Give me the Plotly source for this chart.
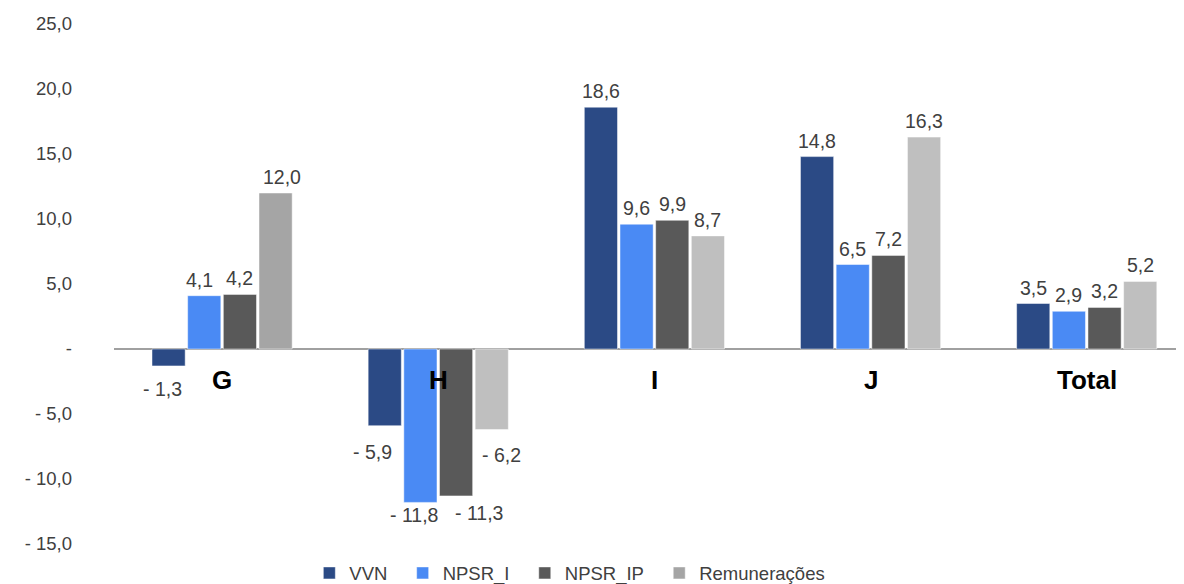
import plotly.graph_objects as go

categories = ["G", "H", "I", "J", "Total"]
series_names = ["VVN", "NPSR_I", "NPSR_IP", "Remunerações"]
vvn = [-1.3, -5.9, 18.6, 14.8, 3.5]
npsr_i = [4.1, -11.8, 9.6, 6.5, 2.9]
npsr_ip = [4.2, -11.3, 9.9, 7.2, 3.2]
remun = [12.0, -6.2, 8.7, 16.3, 5.2]
series_values = [vvn, npsr_i, npsr_ip, remun]
y_tickvals = [-15, -10, -5, 0, 5, 10, 15, 20, 25]
y_ticktext = ["- 15,0", "- 10,0", "- 5,0", "-", "5,0", "10,0", "15,0", "20,0", "25,0"]

# styles
colors = ["#2B4A85", "#4A8AF4", "#595959", "#BFBFBF"]
remun_g_color = "#A5A5A5"
FONT = "Liberation Sans, Arial, sans-serif"
PAD = "\u00a0\u00a0"
BARGAP = 0.34
# label nudges in pixels: (series index, category) -> (dx, dy)
label_nudge = {
    (0, "G"): (-6, -10), (1, "G"): (-5, 0), (3, "G"): (6, 0),
    (0, "H"): (-12, -13), (1, "H"): (-6, 0), (2, "H"): (23, -4), (3, "H"): (10, -12),
}


def fmt(v):
    s = f"{abs(v):.1f}".replace(".", ",")
    return ("- " + s) if v < 0 else s


fig = go.Figure()
nser = len(series_names)
for j, (name, vals, col) in enumerate(zip(series_names, series_values, colors)):
    if name == "Remunerações":
        mcol = [remun_g_color if c == "G" else col for c in categories]
    else:
        mcol = col
    fig.add_trace(go.Bar(
        x=categories, y=vals, name=name + PAD,
        marker=dict(color=mcol, line=dict(color="rgba(255,255,255,0.6)", width=0.8)),
    ))
    for i, (c, v) in enumerate(zip(categories, vals)):
        dx, dy = label_nudge.get((j, c), (0, -11 if v < 0 else 0))
        xc = i + (j - (nser - 1) / 2) * (1 - BARGAP) / nser
        fig.add_annotation(
            x=xc, y=v, xref="x", yref="y", text=fmt(v), showarrow=False,
            yanchor="top" if v < 0 else "bottom",
            xshift=dx, yshift=(dy if v < 0 else 3 + dy),
            font=dict(family=FONT, size=19.5, color="#404040"))

for c in categories:
    fig.add_annotation(x=c, y=0, xref="x", yref="y", text=f"<b>{c}</b>",
                       showarrow=False, yanchor="middle", yshift=-31,
                       font=dict(family=FONT, size=26, color="#000000"))

fig.update_layout(
    width=1176, height=576,
    margin=dict(l=106, r=0, t=16, b=40, autoexpand=False),
    paper_bgcolor="white", plot_bgcolor="white",
    barmode="group", bargap=BARGAP, bargroupgap=0.07,
    font=dict(family=FONT, color="#404040"),
    showlegend=True,
    legend=dict(orientation="h", xref="container", x=0.482, xanchor="center",
                y=-0.02, yanchor="top",
                font=dict(family=FONT, size=18.5, color="#404040"),
                itemwidth=30, traceorder="normal"),
)
fig.update_xaxes(range=[-0.5, 4.45], showticklabels=False, showgrid=False,
                 showline=False, zeroline=False, ticks="", automargin=False)
fig.update_yaxes(range=[-15, 25], tickvals=y_tickvals, ticktext=y_ticktext,
                 showgrid=False, zeroline=True, zerolinecolor="#A0A0A0", zerolinewidth=1.5,
                 showline=False, ticks="", ticklabelstandoff=41, automargin=False,
                 tickfont=dict(family=FONT, size=18.5, color="#404040"))

fig.write_html("out.html")
